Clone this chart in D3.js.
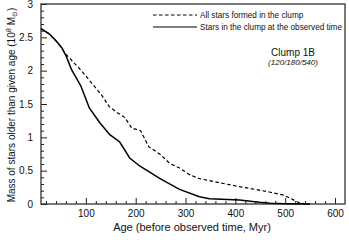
<!DOCTYPE html>
<html>
<head>
<meta charset="utf-8">
<script src="https://cdn.jsdelivr.net/npm/d3@7"></script>
<style>
    body { margin: 0; background: #fff; }
    svg { display: block; font-family: "Liberation Sans", Arial, sans-serif; }
</style>
</head>
<body>
<svg id="chart" width="349" height="246"></svg>
<script>
// Ages in Myr before the observed time
var formedAge = [10, 27, 41, 52, 57, 91, 131, 147, 165, 178, 192, 210, 226, 250, 268, 288, 308, 328, 368, 408, 428, 468, 498, 528, 542];
// Mass of all stars formed in the clump (10^8 Msun)
var formedMass = [2.63, 2.55, 2.44, 2.34, 2.27, 2.0, 1.64, 1.46, 1.36, 1.3, 1.14, 1.1, 0.86, 0.74, 0.61, 0.54, 0.44, 0.38, 0.32, 0.26, 0.235, 0.18, 0.13, 0.02, 0];

var observedAge = [10, 27, 41, 52, 61, 71, 90, 107, 128, 148, 168, 188, 208, 248, 288, 328, 348, 408, 448, 470, 500, 550];
// Mass of stars still in the clump at the observed time
var observedMass = [2.63, 2.55, 2.44, 2.34, 2.21, 2.02, 1.77, 1.44, 1.22, 1.04, 0.93, 0.69, 0.57, 0.385, 0.22, 0.11, 0.08, 0.06, 0.025, 0.01, 0.004, 0];

var xTicks = [100, 200, 300, 400, 500, 600];
var yTicks = [0, 0.5, 1, 1.5, 2, 2.5, 3];
var legendLabels = ['All stars formed in the clump', 'Stars in the clump at the observed time'];

var svg = d3.select('#chart');
// plot box (don't use "top", it is window.top)
var box = { left: 41, right: 345, top: 4, bottom: 204 };

var x = d3.scaleLinear().domain([10, 620]).range([box.left, box.right]);
var y = d3.scaleLinear().domain([0, 3]).range([box.bottom, box.top]);

// minor ticks every 20 Myr and 0.1
var xMinor = d3.range(20, 620, 20).filter(function (d) { return d % 100 !== 0; });
var yMinor = d3.range(1, 30).map(function (d) { return d / 10; }).filter(function (d) { return Math.round(d * 10) % 5 !== 0; });

// Frame
svg.append('rect')
    .attr('x', box.left).attr('y', box.top)
    .attr('width', box.right - box.left).attr('height', box.bottom - box.top)
    .attr('fill', 'none').attr('stroke', '#333').attr('stroke-width', 1.3);

// Bottom axis, ticks pointing in
var xAxis = svg.append('g').attr('transform', 'translate(0,' + box.bottom + ')')
    .call(d3.axisBottom(x).tickValues(xTicks).tickSize(-6).tickPadding(6).tickFormat(d3.format('d')));
xAxis.append('g').call(d3.axisBottom(x).tickValues(xMinor).tickSize(-3).tickFormat(''));

var yAxis = svg.append('g').attr('transform', 'translate(' + box.left + ',0)')
    .call(d3.axisLeft(y).tickValues(yTicks).tickSize(-6).tickPadding(8).tickFormat(function (d) { return d; }));
yAxis.append('g').call(d3.axisLeft(y).tickValues(yMinor).tickSize(-3).tickFormat(''));

svg.selectAll('.domain').remove();
svg.selectAll('.tick line').attr('stroke', '#222').attr('stroke-width', 1);
svg.selectAll('.tick text').attr('fill', '#111').style('font-size', '10px');

// Curves
var line = d3.line()
    .x(function (d) { return x(d[0]); })
    .y(function (d) { return y(d[1]); });

svg.append('path')
    .datum(d3.zip(formedAge, formedMass))
    .attr('d', line)
    .attr('fill', 'none').attr('stroke', '#000').attr('stroke-width', 1.2)
    .attr('stroke-dasharray', '3.5,2.5');

svg.append('path')
    .datum(d3.zip(observedAge, observedMass))
    .attr('d', line)
    .attr('fill', 'none').attr('stroke', '#000').attr('stroke-width', 1.5);

// Legend
var legend = svg.append('g');
legendLabels.forEach(function (label, i) {
    var ly = 15 + i * 12;
    legend.append('line')
        .attr('x1', 153).attr('x2', 197).attr('y1', ly).attr('y2', ly)
        .attr('stroke', '#000').attr('stroke-width', 1.2)
        .attr('stroke-dasharray', i === 0 ? '3.5,2.5' : null);
    legend.append('text')
        .attr('x', 200).attr('y', ly + 3)
        .style('font-size', '8.2px').attr('fill', '#111')
        .text(label);
});

svg.append('text')
    .attr('x', 293).attr('y', 56)
    .attr('text-anchor', 'middle')
    .style('font-size', '10px').attr('fill', '#111')
    .text('Clump 1B');
svg.append('text')
    .attr('x', 293).attr('y', 65)
    .attr('text-anchor', 'middle')
    .style('font-size', '8px').style('font-style', 'italic').attr('fill', '#111')
    .text('(120/180/540)');

// Axis titles
svg.append('text')
    .attr('x', 192).attr('y', 231)
    .attr('text-anchor', 'middle')
    .style('font-size', '11px').attr('fill', '#111')
    .text('Age (before observed time, Myr)');

var yTitle = svg.append('text')
    .attr('transform', 'translate(15,105) rotate(-90)')
    .attr('text-anchor', 'middle')
    .style('font-size', '10px').attr('fill', '#111');
yTitle.append('tspan').text('Mass of stars older than given age (10');
yTitle.append('tspan').attr('dy', -4).style('font-size', '7.5px').text('8');
yTitle.append('tspan').attr('dy', 4).text(' M');
yTitle.append('tspan').attr('dy', 2).style('font-size', '6.5px').text('\u2299');
yTitle.append('tspan').attr('dy', -2).text(')');
</script>
</body>
</html>
